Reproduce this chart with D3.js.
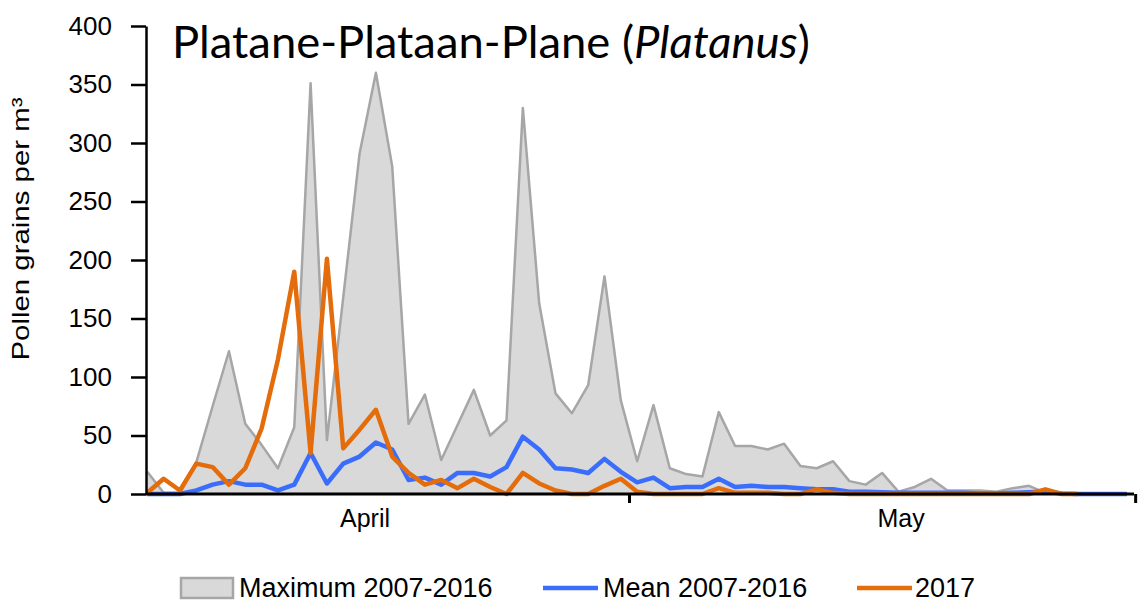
<!DOCTYPE html>
<html><head><meta charset="utf-8">
<script src="https://cdn.jsdelivr.net/npm/d3@7"></script>
<style>body{margin:0;background:#fff}svg{display:block}</style>
</head><body><svg id="c" width="1138" height="604"></svg>
<script>
// ---- data (daily values, 1 April – 31 May) ----
const maxValues = [19,1,1,27,75,122,60,42,22,57,
  351,46,168,291,360,280,60,85,29,59,
  89,50,63,330,163,86,69,93,186,80,
  28,76,22,17,15,70,41,41,38,43,
  24,22,28,11,8,18,2,6,13,3,
  3,3,2,5,7,1,0,0,0,0,0];
const meanValues = [0,0,0,3,8,11,8,8,3,8,
  35,9,26,32,44,38,12,14,8,18,
  18,15,23,49,38,22,21,18,30,19,
  10,14,5,6,6,13,6,7,6,6,
  5,4,4,2,2,1.5,1,1,1,1,
  1,0.5,0.5,1,1.5,2,0.5,0,0,0,0];
const values2017 = [1,13,3,26,23,8,22,56,115,190,
  35,201,39,55,72,32,18,8,12,5,
  13,6,0,18,9,3,0,0,7,13,
  2,0,0,0,0,5,1,1,1,0,
  0,4,1,0,0,0,0,0,0,0,
  0,0,0,0,0,4,0,0];
const yTicks = [0,50,100,150,200,250,300,350,400];
const monthLabels = ["April","May"];
const legendLabels = ["Maximum 2007-2016","Mean 2007-2016","2017"];
const titleParts = ["Platane-Plataan-Plane (","Platanus",")"];
const yLabel = "Pollen grains per m³";

const startDate = new Date(2017,3,1);
const dates = maxValues.map((_, i) => d3.timeDay.offset(startDate, i));

const colMaxFill = "#d9d9d9", colMaxLine = "#a6a6a6", colMean = "#3a6dfb", col2017 = "#e46c0a";
const svg = d3.select("#c");

const x = d3.scaleTime().domain([dates[0], dates[dates.length-1]]).range([147.3, 1127]);
const y = d3.scaleLinear().domain([0,400]).range([494, 26]);
const axisX0 = 146, axisX1 = 1134;

// area
const area = d3.area().x((d,i)=>x(dates[i])).y0(y(0)).y1(d=>y(d));
svg.append("path").datum(maxValues).attr("d", area).attr("fill", colMaxFill);
const lineGen = d3.line().x((d,i)=>x(dates[i])).y(d=>y(d));
svg.append("path").datum(maxValues).attr("d", lineGen).attr("fill","none")
  .attr("stroke", colMaxLine).attr("stroke-width", 2.5).attr("stroke-linejoin","round");
svg.append("path").datum(meanValues).attr("d", lineGen).attr("fill","none")
  .attr("stroke", colMean).attr("stroke-width", 4.5).attr("stroke-linejoin","round");
svg.append("path").datum(values2017).attr("d", lineGen).attr("fill","none")
  .attr("stroke", col2017).attr("stroke-width", 4.5).attr("stroke-linejoin","round");

// y axis
const yAxis = svg.append("g").attr("transform", `translate(${axisX0},0)`)
  .call(d3.axisLeft(y).tickValues(yTicks).tickSize(15).tickSizeOuter(0).tickPadding(19));
yAxis.select(".domain").attr("stroke","#000").attr("stroke-width",2.5);
yAxis.selectAll(".tick line").attr("stroke","#000").attr("stroke-width",2.5);
yAxis.selectAll(".tick text").attr("font-family","'Liberation Sans', Arial, sans-serif")
  .attr("font-size",26).attr("fill","#000");

// x axis (ticks at month boundaries)
const monthTicks = [dates[0], new Date(2017,3,30,12), new Date(2017,4,31,12)];
const xAxis = svg.append("g").attr("transform", `translate(0,${y(0)})`)
  .call(d3.axisBottom(x).tickValues(monthTicks).tickSize(9).tickSizeOuter(0).tickFormat(""));
xAxis.select(".domain").attr("d", `M${axisX0},0H${axisX1}`).attr("stroke","#000").attr("stroke-width",3);
xAxis.selectAll(".tick line").attr("stroke","#000").attr("stroke-width",3);
xAxis.selectAll(".tick").filter((d,i)=>i===0).remove();

const monthLabelDates = [new Date(2017,3,14,8), new Date(2017,4,17,4)];
svg.selectAll(".month").data(monthLabels).join("text")
  .attr("x",(d,i)=>x(monthLabelDates[i])).attr("y",527)
  .attr("text-anchor","middle").attr("font-family","'Liberation Sans', Arial, sans-serif")
  .attr("font-size",25).text(d=>d);

// y label
svg.append("text").attr("transform","translate(29,229) rotate(-90)")
  .attr("text-anchor","middle").attr("font-family","'Liberation Sans', Arial, sans-serif")
  .attr("font-size",24).attr("textLength",263).attr("lengthAdjust","spacingAndGlyphs")
  .text(yLabel);

// title
const title = svg.append("text").attr("x",172).attr("y",58)
  .attr("font-family","Lato, 'Open Sans', sans-serif").attr("font-size",40).attr("fill","#000");
title.selectAll("tspan").data(titleParts).join("tspan")
  .attr("font-style",(d,i)=>i===1?"italic":"normal").text(d=>d);
const tw = title.node().getComputedTextLength();
title.attr("font-size", 40*638/tw);

// legend
const lgY = 588;
const lg = svg.append("g").attr("font-family","'Liberation Sans', Arial, sans-serif").attr("font-size",27);
lg.append("rect").attr("x",181).attr("y",lgY-10).attr("width",52).attr("height",20)
  .attr("fill",colMaxFill).attr("stroke",colMaxLine).attr("stroke-width",2.5);
lg.append("text").attr("x",239).attr("y",lgY).attr("dy","0.35em").text(legendLabels[0]);
lg.append("line").attr("x1",543).attr("x2",598).attr("y1",lgY).attr("y2",lgY)
  .attr("stroke",colMean).attr("stroke-width",4.5);
lg.append("text").attr("x",603).attr("y",lgY).attr("dy","0.35em").text(legendLabels[1]);
lg.append("line").attr("x1",857).attr("x2",912).attr("y1",lgY).attr("y2",lgY)
  .attr("stroke",col2017).attr("stroke-width",4.5);
lg.append("text").attr("x",915).attr("y",lgY).attr("dy","0.35em").text(legendLabels[2]);
</script>
</body></html>
